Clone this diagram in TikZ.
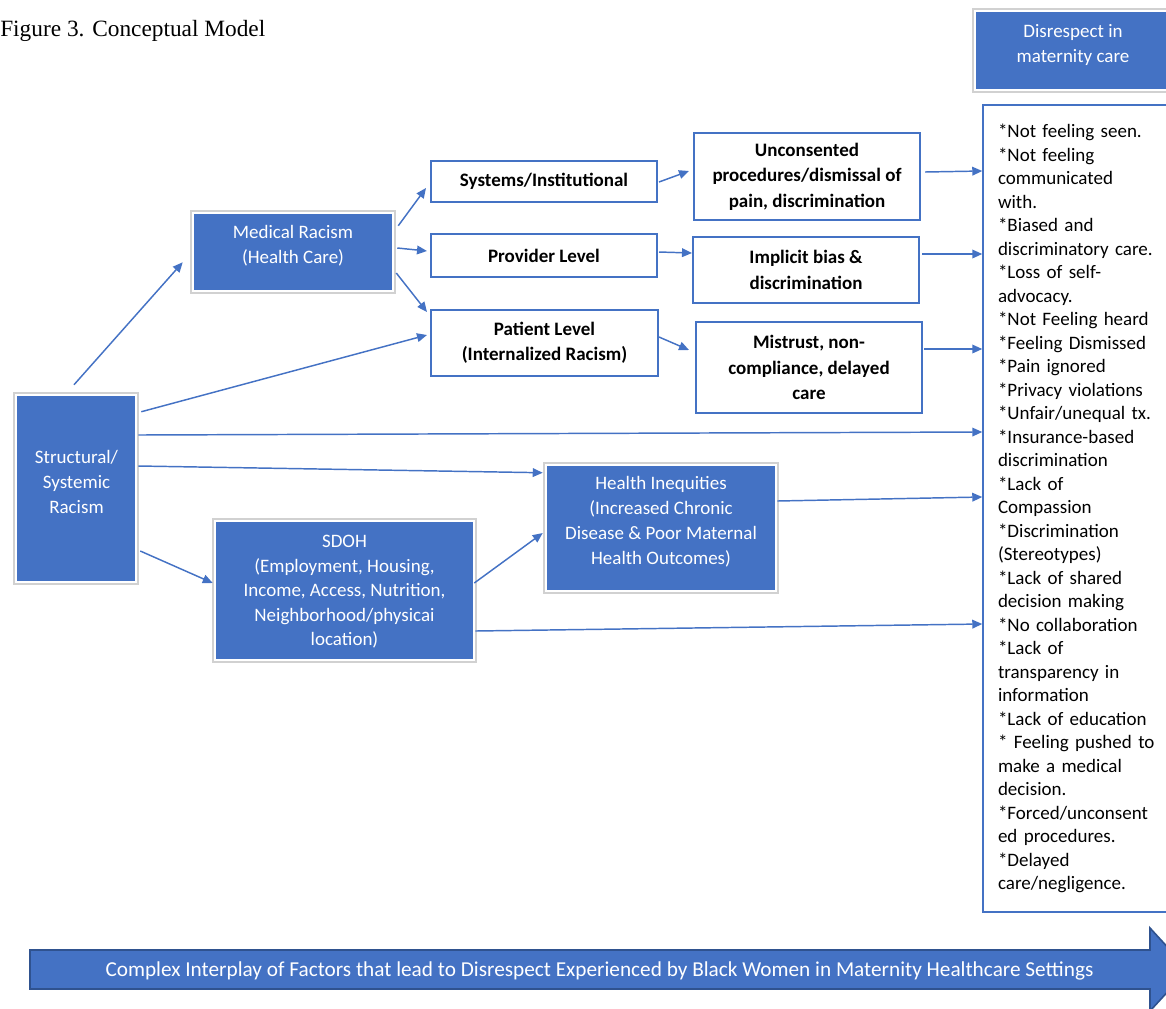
\documentclass[tikz,border=0pt]{standalone}
\usepackage{fontspec}
\setmainfont{Carlito}
\newfontfamily\titlefont{Liberation Serif}
\usetikzlibrary{arrows.meta}
\definecolor{ob}{HTML}{4472C4}
\definecolor{obdark}{HTML}{2F528F}
\newcommand\bxnode[6]{\node[#1, minimum width={(#4-#2)*0.75pt}, minimum height={(#5-#3)*0.75pt}] (#6) at ({(#2+#4)/2},{(#3+#5)/2})}
\begin{document}
\begin{tikzpicture}[x=0.75pt,y=-0.75pt,
 bluebox/.style={fill=ob, draw=white, line width=1.9pt, preaction={draw=black!18, line width=4pt}, inner sep=0pt},
 whitebox/.style={fill=white, draw=ob, line width=1.5pt, inner sep=0pt, align=center, font=\bfseries\fontsize{14.25}{19.1}\selectfont},
 listbox/.style={fill=white, draw=ob, line width=1.1pt, inner sep=0pt, align=left, text width=127.5pt, font=\fontsize{14.25}{17.63}\selectfont},
 bluetext/.style={text=white, align=center, inner sep=0pt, font=\fontsize{14.25}{18.75}\selectfont},
 arr/.style={draw=ob, line width=1.1pt, -{Triangle[length=7.5pt,width=6.5pt]}},
 bigarrow/.style={fill=ob, draw=obdark, line width=1.2pt, line join=miter}
 ]
\useasboundingbox (0,0) rectangle (1166,1008);

% title
\node[anchor=west, inner sep=0pt, font=\titlefont\fontsize{17.5}{20}\selectfont] (title) at (0,31) {Figure 3. Conceptual Model};

% blue boxes
\bxnode{bluebox}{975}{11}{1172}{90}{dis} {};
\node[bluetext] (disT) at (1073,44.5) {Disrespect in\\maternity care};
\bxnode{bluebox}{193}{213}{393}{291}{med} {};
\node[bluetext] (medT) at (293,245.5) {Medical Racism\\(Health Care)};
\bxnode{bluebox}{16}{395}{136}{582}{str} {};
\node[bluetext] (strT) at (76.5,482) {Structural/\\Systemic\\Racism};
\bxnode{bluebox}{215}{521}{474}{660}{sdoh} {};
\node[bluetext, font=\fontsize{14.25}{18.4}\selectfont] (sdohT) at (344.5,592) {SDOH\\(Employment, Housing,\\Income, Access, Nutrition,\\Neighborhood/physicai\\location)};
\bxnode{bluebox}{546}{465}{776}{591}{hi} {};
\node[bluetext] (hiT) at (661,522) {Health Inequities\\(Increased Chronic\\Disease \& Poor Maternal\\Health Outcomes)};

% white boxes
\bxnode{whitebox}{431}{161}{657}{202}{sys} {Systems/Institutional};
\bxnode{whitebox}{431}{234}{657}{277}{prov} {Provider Level};
\bxnode{whitebox}{431}{310}{658}{376}{pat} {Patient Level\\(Internalized Racism)};
\bxnode{whitebox}{694}{133}{920}{220}{unc} {Unconsented\\procedures/dismissal of\\pain, discrimination};
\bxnode{whitebox}{693}{237}{919}{303}{imp} {Implicit bias \&\\discrimination};
\bxnode{whitebox}{696}{322}{922}{413}{mis} {Mistrust, non-\\compliance, delayed\\care};

% list box
\bxnode{listbox}{983}{105}{1183}{912}{list} {{*}Not feeling seen.\\{*}Not feeling\\communicated\\with.\\{*}Biased and\\discriminatory care.\\{*}Loss of self-\\advocacy.\\{*}Not Feeling heard\\{*}Feeling Dismissed\\{*}Pain ignored\\{*}Privacy violations\\{*}Unfair/unequal tx.\\{*}Insurance-based\\discrimination\\{*}Lack of\\Compassion\\{*}Discrimination\\(Stereotypes)\\{*}Lack of shared\\decision making\\{*}No collaboration\\{*}Lack of\\transparency in\\information\\{*}Lack of education\\{*} Feeling pushed to\\make a medical\\decision.\\{*}Forced/unconsent\\ed procedures.\\{*}Delayed\\care/negligence.};

% connectors
\draw[arr] ([shift={(-2,-9)}]str.north) -- ([shift={(-9,-30)}]med.south west);
\draw[arr] ([shift={(4,18)}]str.north east) -- ([shift={(-3,-8)}]pat.west);
\draw[arr] ([shift={(1,-53.5)}]str.east) -- ([shift={(0,-76.5)}]list.west);
\draw[arr] ([shift={(1,-22.5)}]str.east) -- ([shift={(-2,9)}]hi.north west);
\draw[arr] ([shift={(3,62.5)}]str.east) -- ([shift={(-1,-7.5)}]sdoh.west);
\draw[arr] ([shift={(4,14)}]med.north east) -- ([shift={(-4,6.5)}]sys.west);
\draw[arr] ([shift={(3,-4)}]med.east) -- ([shift={(-3,-4.5)}]prov.west);
\draw[arr] ([shift={(2,21)}]med.east) -- ([shift={(-3,3)}]pat.north west);
\draw[arr] ([shift={(1,0.5)}]sys.east) -- ([shift={(-4,-5.5)}]unc.west);
\draw[arr] ([shift={(1,-3.5)}]prov.east) -- ([shift={(0,-17)}]imp.west);
\draw[arr] ([shift={(0,-6)}]pat.east) -- ([shift={(-6,-17.5)}]mis.west);
\draw[arr] ([shift={(4,-4.5)}]unc.east) -- ([shift={(0,-337.5)}]list.west);
\draw[arr] ([shift={(2,-16)}]imp.east) -- ([shift={(0,-254.5)}]list.west);
\draw[arr] ([shift={(1,-18.5)}]mis.east) -- ([shift={(0,-159.5)}]list.west);
\draw[arr] ([shift={(0,-27)}]hi.east) -- ([shift={(0,-11.5)}]list.west);
\draw[arr] ([shift={(0,40.5)}]sdoh.east) -- ([shift={(0,115.5)}]list.west);
\draw[arr] ([shift={(-1,-7.5)}]sdoh.east) -- ([shift={(-2,5)}]hi.west);

% bottom banner arrow
\draw[bigarrow] (30,950) -- (1150,950) -- (1150,928) -- (1188,969.5) -- (1150,1011) -- (1150,989) -- (30,989) -- cycle;
\node[bluetext, font=\fontsize{15.95}{19}\selectfont] (banner) at (599.5,970.5) {Complex Interplay of Factors that lead to Disrespect Experienced by Black Women in Maternity Healthcare Settings};
\end{tikzpicture}
\end{document}
